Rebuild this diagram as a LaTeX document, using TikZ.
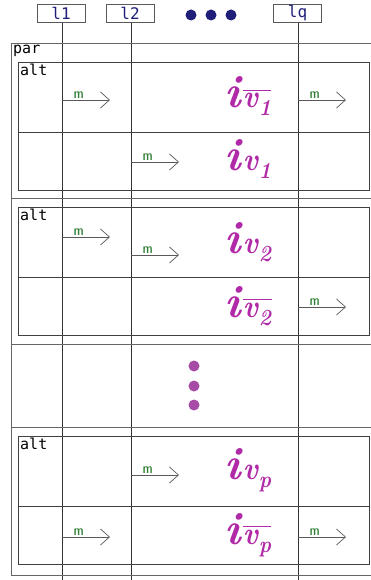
\documentclass[tikz,border=0pt]{standalone}
\usepackage{amsmath}
\usepackage{fontspec}
\newfontfamily\seqfont{DejaVu Sans Mono}
\usetikzlibrary{arrows.meta}

\definecolor{lanecol}{HTML}{1F1F7A}
\definecolor{msgcol}{HTML}{2E7D32}
\definecolor{branchcol}{HTML}{B02AA8}
\definecolor{dotcol}{HTML}{A64CA6}

\newcommand{\bit}[1]{\textbf{\textit{#1}}}
\newcommand{\branchsub}[2]{\scalebox{0.9}[1]{\fontsize{32}{32}\selectfont\bit{#1}\raisebox{-8pt}{\fontsize{23}{23}\selectfont\bit{#2}}}}

\begin{document}
\begin{tikzpicture}[
    x=1pt, y=-1pt,
    every node/.style={font=\seqfont},
    head/.style={rectangle, draw=gray!70!black, minimum width=48pt, minimum height=18pt, inner sep=0pt, text=lanecol, font=\seqfont\fontsize{16}{16}\selectfont},
    topdot/.style={circle, fill=lanecol, minimum size=11pt, inner sep=0pt},
    middot/.style={circle, fill=dotcol, minimum size=11pt, inner sep=0pt},
    frame/.style={draw=black!75, line width=0.8pt},
    outer/.style={draw=gray!80!black, line width=0.9pt},
    tag/.style={anchor=north west, inner sep=1pt, font=\seqfont\fontsize{15}{15}\selectfont},
    msg/.style={draw=black!65, line width=0.7pt, -{Straight Barb[length=9pt, width=16pt]}},
    mlabel/.style={above, pos=0.35, inner sep=1.5pt, text=msgcol, xscale=1.4, font=\seqfont\fontsize{12}{12}\selectfont},
    branch/.style={anchor=base west, inner sep=0pt, text=branchcol, font=\fontsize{46}{46}\selectfont}
]
\useasboundingbox (0,0) rectangle (370,580);

% --- lifelines ---
\node (l1) [head] at (61,13.5) {l1};
\node (l2) [head] at (130,13.5) {l2};
\node (lq) [head] at (297.5,13.5) {lq};
\node (d1) [topdot] at (191,15) {};
\node (d2) [topdot] at (211,15) {};
\node (d3) [topdot] at (231,15) {};

\foreach \lane/\x in {l1/62,l2/131,lq/298}
    \draw [black!80, line width=0.8pt] (\x,0 |- \lane.south) -- (\x,580);

% --- par frame ---
\draw [outer] (11,43) rectangle (372,575);
\foreach \y in {198,344,427}
    \draw [outer] (11,\y) -- (372,\y);
\node (par) [tag] at (12,44) {par};

% --- alt frames ---
\foreach \ya/\yb/\yc [count=\k] in {62/132/190, 207/277/335, 436/506/564} {
    \draw [frame] (18,\ya) rectangle (369,\yc);
    \draw [frame] (18,\yb) -- (369,\yb);
    \node (alt\k) [tag] at (19,\ya+1) {alt};
}

% --- messages ---
\foreach \x/\y [count=\k] in {62/100, 298/100, 131/162, 62/237, 131/255, 298/307, 131/475, 62/537, 298/537} {
    \coordinate (s\k) at (\x,\y);
    \coordinate (e\k) at ([xshift=48pt]s\k);
    \draw [msg] (s\k) -- node[mlabel] {m} (e\k);
}

% --- branch labels ---
\node (b1) [branch] at (224,108) {$\bit{i}\overline{\branchsub{v}{1}}$};
\node (b2) [branch] at (224,171) {$\bit{i}\branchsub{v}{1}$};
\node (b3) [branch] at (224,253) {$\bit{i}\branchsub{v}{2}$};
\node (b4) [branch] at (224,317) {$\bit{i}\overline{\branchsub{v}{2}}$};
\node (b5) [branch] at (224,479) {$\bit{i}\branchsub{v}{p}$};
\node (b6) [branch] at (224,544) {$\bit{i}\overline{\branchsub{v}{p}}$};

% --- more branches ---
\node (m1) [middot] at (194,366) {};
\node (m2) [middot] at (194,386) {};
\node (m3) [middot] at (194,405) {};

\end{tikzpicture}
\end{document}
